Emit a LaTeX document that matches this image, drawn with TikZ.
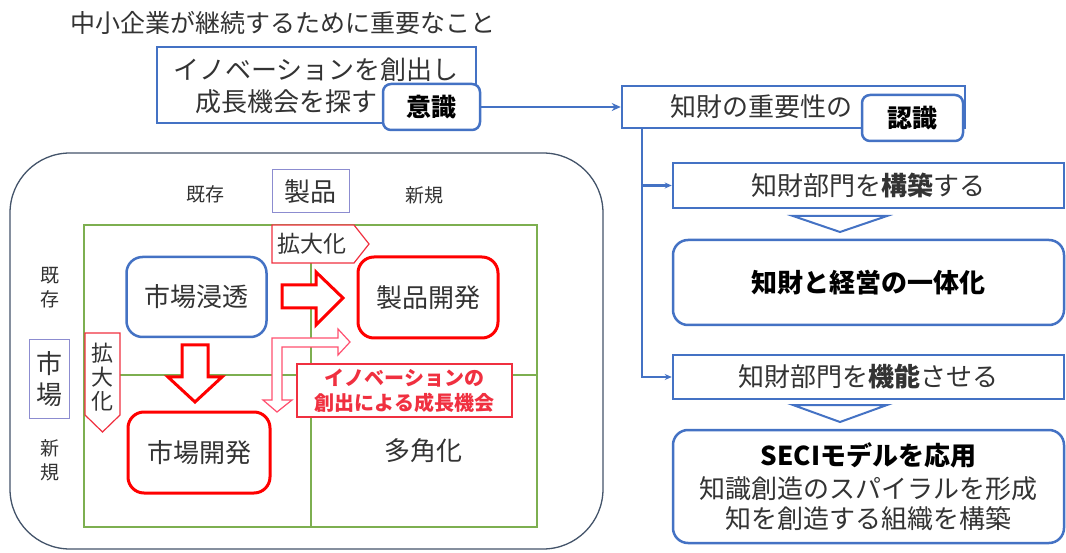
\documentclass[tikz,border=0pt]{standalone}
\usepackage{fontspec}
\setmainfont{Noto Sans CJK JP}
\usetikzlibrary{arrows.meta}
\definecolor{mblue}{HTML}{4472C4}
\definecolor{mred}{HTML}{FF0000}
\definecolor{lred}{HTML}{F03040}
\definecolor{pred}{HTML}{FF5070}
\definecolor{mgreen}{HTML}{7DAF50}
\definecolor{ogray}{HTML}{44546A}
\definecolor{lbl}{HTML}{8C8CD0}
\definecolor{txtgray}{HTML}{333333}
\newcommand\fsz[2]{\fontsize{#1}{#2}\selectfont}
\begin{document}
\begin{tikzpicture}[x=1pt,y=-1pt,
  font=\fsz{26}{32}, text=txtgray,
  bbox/.style={draw=mblue,line width=2.5pt,fill=white,inner sep=0pt},
  rbox/.style={bbox,rounded corners=8pt},
  bigrbox/.style={bbox,rounded corners=15pt},
  qblue/.style={draw=mblue,line width=2.5pt,fill=white,rounded corners=16pt,inner sep=0pt},
  qred/.style={draw=mred,line width=3pt,fill=white,rounded corners=16pt,inner sep=0pt},
  lbox/.style={draw=lbl,line width=1pt,fill=white,inner sep=0pt},
  small/.style={font=\fsz{19}{24}},
  blockarrow/.style={draw=mred,line width=3pt,line join=miter,fill=white},
  barrow/.style={draw=mblue,line width=2.2pt,-{Stealth[length=9pt,width=8pt]}},
  brarrow/.style={draw=mblue,line width=2.2pt,-{Stealth[length=7pt,width=6pt]}},
  ]
\useasboundingbox (0,0) rectangle (1066,553);
\fill[white] (0,0) rectangle (1066,553);

% title
\node (title) at (283,23) {\fsz{25}{30}中小企業が継続するために重要なこと};

% top-left box
\node[bbox,minimum width=319pt,minimum height=76pt] (b1) at (316.5,85) {};
\node (b1l1) at (316,70) {イノベーションを創出し};
\node[anchor=west,inner sep=0pt] (b1l2) at (195,102) {成長機会を探す};
\node[rbox,minimum width=97pt,minimum height=46pt,text=black] (ishiki) at (431.5,107) {\bfseries\fsz{25}{30}意識};

% right column
\node[bbox,minimum width=343pt,minimum height=42pt] (b2) at (793.5,107) {};
\node[anchor=west,inner sep=0pt] (b2t) at (670,107) {知財の重要性の};
\node[rbox,minimum width=101pt,minimum height=46pt,text=black] (ninshiki) at (912.5,118) {\bfseries\fsz{25}{30}認識};

\node[bbox,minimum width=391pt,minimum height=45pt] (b3) at (868.5,185.5) {知財部門を\textbf{構築}する};
\draw[draw=mblue,line width=2pt,fill=white] (793,216) -- (887,216) -- (840,232) -- cycle;
\node[bigrbox,minimum width=391pt,minimum height=85pt,text=black] (b4) at (868.5,282.5) {\bfseries 知財と経営の一体化};
\node[bbox,minimum width=391pt,minimum height=44pt] (b5) at (868.5,377) {知財部門を\textbf{機能}させる};
\draw[draw=mblue,line width=2pt,fill=white] (793,405) -- (887,405) -- (840,422) -- cycle;
\node[bigrbox,minimum width=391pt,minimum height=113pt,align=center] (b6) at (868.5,486.5)
  {\textcolor{black}{\bfseries SECIモデルを応用}\\[1pt]知識創造のスパイラルを形成\\[-2pt]知を創造する組織を構築};

% connectors
\draw[barrow] (ishiki.east) -- (ishiki.east -| b2.west);
\coordinate (trunk) at ([xshift=21pt]b2.south west);
\draw[brarrow] (trunk) |- (b3.west);
\draw[brarrow] (trunk) |- (b5.west);

% left frame
\draw[ogray,line width=1.3pt,rounded corners=60pt] (10,153) rectangle (603,549);
% green grid
\draw[mgreen,line width=1.5pt] (84,225) rectangle (537,527);
\draw[mgreen,line width=1.5pt] (311,225) -- (311,527);
\draw[mgreen,line width=1.5pt] (84,375) -- (537,375);

% axis labels
\node[small] (kizon1) at (205,194) {既存};
\node[lbox,minimum width=77pt,minimum height=43pt] (seihin) at (310.5,191.5) {製品};
\node[small] (shinki1) at (424,195) {新規};
\node[small,align=center] (kizon2) at (50,288) {既\\存};
\node[lbox,minimum width=40pt,minimum height=78pt,align=center,font=\fsz{26}{31}] (shijo) at (49,379) {市\\場};
\node[small,align=center] (shinki2) at (50,460) {新\\規};

% quadrants
\node[qblue,minimum width=140pt,minimum height=80pt] (shintou) at (196.5,297) {市場浸透};
\node[qred,minimum width=140pt,minimum height=81pt] (seihinkaihatsu) at (428,297.5) {製品開発};
\node[qred,minimum width=142pt,minimum height=81pt] (shijokaihatsu) at (199,452.5) {市場開発};
\node (takaku) at (423,451) {多角化};

% expansion tags
\draw[lred,line width=1.2pt,fill=white] (272,225) -- (354,225) -- (369,244) -- (354,263) -- (272,263) -- cycle;
\node[font=\fsz{23}{26}] (kakudai1) at (312,244) {拡大化};
\draw[lred,line width=1.2pt,fill=white] (85,333) -- (120,333) -- (120,415) -- (102.5,432) -- (85,415) -- cycle;
\node[align=center,font=\fsz{22}{24}] (kakudai2) at (102,377) {拡\\大\\化};

% block arrows
\draw[blockarrow] (282,285) -- (316,285) -- (316,272) -- (343,298) -- (316,325) -- (316,308) -- (282,308) -- cycle;
\draw[blockarrow] (182,345) -- (208,345) -- (208,377) -- (222,377) -- (195,402) -- (168,377) -- (182,377) -- cycle;

% thin bent arrow
\draw[pred,line width=1.2pt,fill=white] (272,400) -- (263,400) -- (277,412) -- (292,400) -- (282,400) -- (282,347) -- (338,347) -- (338,355) -- (350,342) -- (338,329) -- (338,338) -- (272,338) -- cycle;

% innovation label
\node[draw=lred,line width=1.3pt,fill=white,minimum width=215pt,minimum height=53pt,inner sep=0pt,align=center,text=lred,font=\bfseries\fsz{20}{25}] (inno) at (404.5,390.5) {イノベーションの\\創出による成長機会};
\end{tikzpicture}
\end{document}
